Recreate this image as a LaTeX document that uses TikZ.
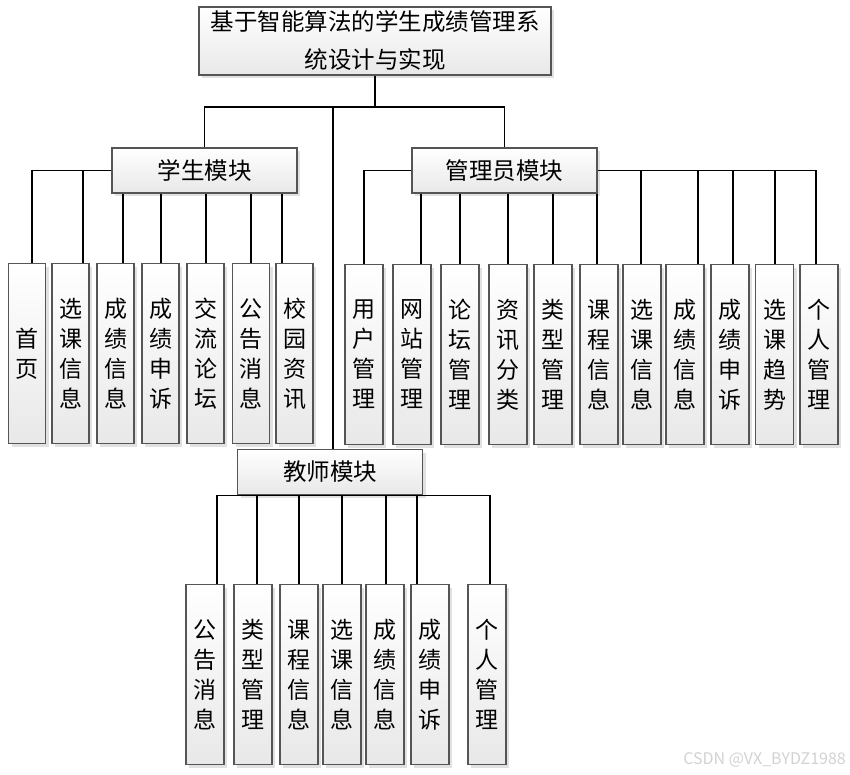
\documentclass[tikz,border=0pt]{standalone}
\usepackage{fontspec}
\setmainfont{Noto Sans CJK SC}
\usepackage{tikz}
\usetikzlibrary{positioning,shadows}
\definecolor{boxline}{RGB}{85,85,85}

\begin{document}
\begin{tikzpicture}[
    x=1pt, y=-1pt,
    every node/.style={inner sep=0pt, align=center},
    box/.style={draw=boxline, line width=1.1pt, top color=white, bottom color=gray!18,
        drop shadow={shadow xshift=3pt, shadow yshift=-3pt, fill=gray!30, opacity=0.8}},
    topbox/.style={box, minimum width=352pt, minimum height=68pt,
        font=\fontsize{23.5}{38}\selectfont},
    modbox/.style={box, minimum width=185pt, minimum height=45pt,
        font=\fontsize{23.5}{26}\selectfont},
    leafbox/.style={box, anchor=north, minimum width=37pt, minimum height=180pt,
        font=\fontsize{23}{30}\selectfont},
    link/.style={draw, line width=1.1pt},
]
\useasboundingbox (0,0) rectangle (850,775);

% root and the three modules
\node[topbox] (root) at (375,41) {基于智能算法的学生成绩管理系\\统设计与实现};
\node[modbox] (smod) at (204.5,170.5) {学生模块};
\node[modbox] (amod) at (504.5,170.5) {管理员模块};
\node[modbox] (tmod) at (330,472) {教师模块};

\coordinate (bus) at (375,107);
\path[link] (root.south) -- (bus);
\path[link] (smod.north) |- (bus) -| (amod.north);
\path[link] ([xshift=3pt]tmod.north) -- ([xshift=3pt]tmod.north |- bus);

% student leaves
\foreach \n/\x/\dx/\t in {s1/27/5/首\\页, s2/70.5/12.5/选\\课\\信\\息, s3/115.5/7.5/成\\绩\\信\\息,
    s4/160.5/0.5/成\\绩\\申\\诉, s5/205.5/0.5/交\\流\\论\\坛, s6/251/0/公\\告\\消\\息,
    s7/294.5/-12.5/校\\园\\资\\讯}
    \node[leafbox] (\n) at (\x,263) {\t};
\path[link] (smod.west) -| ([xshift=5pt]s1.north);
\path[link] ([xshift=12.5pt]s2.north) |- (smod.west);
\foreach \n/\dx in {s3/7.5, s4/0.5, s5/0.5, s6/0, s7/-12.5}
    \path[link] ([xshift=\dx pt]\n.north) -- ([xshift=\dx pt]\n.north |- smod.south);

% admin leaves
\foreach \n/\x/\t in {a1/364/用\\户\\管\\理, a2/412/网\\站\\管\\理, a3/460/论\\坛\\管\\理,
    a4/508/资\\讯\\分\\类, a5/553/类\\型\\管\\理, a6/599/课\\程\\信\\息,
    a7/642/选\\课\\信\\息, a8/685/成\\绩\\信\\息, a9/730/成\\绩\\申\\诉,
    a10/774.5/选\\课\\趋\\势, a11/819/个\\人\\管\\理}
    \node[leafbox, minimum width=38pt] (\n) at (\x,264) {\t};
\path[link] (amod.west) -| (a1.north);
\foreach \n/\dx in {a2/9, a3/0, a4/0, a5/0, a6/-2}
    \path[link] ([xshift=\dx pt]\n.north) -- ([xshift=\dx pt]\n.north |- amod.south);
\path[link] (amod.east) -| ([xshift=-3pt]a11.north);
\foreach \n/\dx in {a7/-1, a8/13, a9/3, a10/0.5}
    \path[link] ([xshift=\dx pt]\n.north) -- ([xshift=\dx pt]\n.north |- amod.east);

% teacher leaves
\foreach \n/\x/\t in {t1/205/公\\告\\消\\息, t2/253/类\\型\\管\\理, t3/299/课\\程\\信\\息,
    t4/342/选\\课\\信\\息, t5/385/成\\绩\\信\\息, t6/430/成\\绩\\申\\诉, t7/487/个\\人\\管\\理}
    \node[leafbox, minimum width=38pt] (\n) at (\x,584) {\t};
\path[link] ([xshift=12pt]t1.north |- tmod.south) -- ([xshift=3pt]t7.north |- tmod.south);
\foreach \n/\dx in {t1/12, t2/4, t3/0, t4/0, t5/1, t6/-13, t7/3}
    \path[link] ([xshift=\dx pt]\n.north) -- ([xshift=\dx pt]\n.north |- tmod.south);

\node[text=gray!35, font=\fontsize{16}{18}\selectfont, anchor=east] (mark) at (846,760) {CSDN @VX\_BYDZ1988};
\end{tikzpicture}
\end{document}
